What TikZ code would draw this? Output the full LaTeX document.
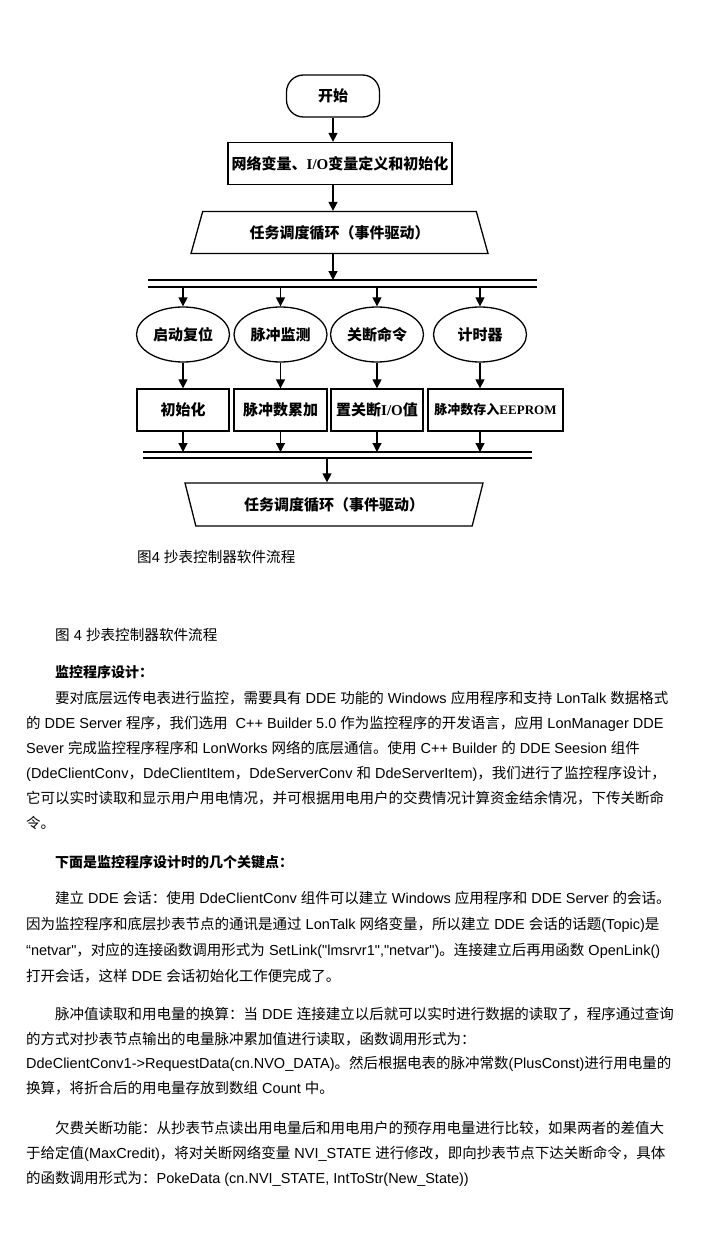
\documentclass[tikz,border=0pt]{standalone}
\usepackage{fontspec}
\setmainfont{Liberation Sans}
\newfontfamily\cjkfont{Noto Sans CJK SC}
\newfontfamily\latinsans{Liberation Sans}[Ligatures=TeXOff]
\newfontfamily\latinserif{Liberation Serif}[Ligatures=TeXOff]
\let\latinfont\latinsans
\usetikzlibrary{arrows.meta, positioning, shapes.geometric}

% Chinese characters are set in the CJK face, the rest in \latinfont
\XeTeXinterchartokenstate=1
\newXeTeXintercharclass\hanclass
\newcount\hancode
\newcommand\sethanrange[2]{%
  \hancode=#1\relax
  \loop
    \XeTeXcharclass\hancode=\hanclass
  \ifnum\hancode<#2\relax
    \advance\hancode by 1
  \repeat}
\sethanrange{"2E80}{"9FFF}
\sethanrange{"FF00}{"FFEF}
\XeTeXinterchartoks 0 \hanclass = {\cjkfont}
\XeTeXinterchartoks 4095 \hanclass = {\cjkfont}
\XeTeXinterchartoks \hanclass 0 = {\latinfont}
\XeTeXinterchartoks \hanclass 4095 = {\latinfont}
\XeTeXinterchartoks 4095 0 = {\latinfont}

\newcommand\chartfont{\let\latinfont\latinserif\latinserif\bfseries\fontsize{15}{18}\selectfont}
\newcommand\figcapfont{\latinsans\fontsize{14.6}{17}\selectfont}
\newcommand\bodyfont{\latinsans\fontsize{14.5}{17}\selectfont}
\newcommand\headfont{\latinsans\bfseries\fontsize{14}{17}\selectfont}

\begin{document}
\begin{tikzpicture}[x=1pt, y=-1pt,
    flowline/.style={line width=1.3pt, -{Triangle[length=9pt, width=9pt]}},
    busline/.style={line width=1.6pt},
    termbox/.style={draw, line width=1.3pt, rounded corners=17pt, minimum width=93pt, minimum height=42pt, font=\chartfont},
    procbox/.style={draw, line width=1.3pt, minimum height=42pt, inner sep=1pt, font=\chartfont},
    eventnode/.style={draw, ellipse, line width=1.3pt, minimum width=93pt, minimum height=55pt, inner sep=0pt, font=\chartfont},
    loopbox/.style={draw, trapezium, trapezium stretches body, line width=1.3pt, minimum height=42pt, inner sep=1pt, font=\chartfont},
    textline/.style={anchor=west, inner sep=0pt, text height=12.5pt, text depth=2pt, font=\bodyfont},
    headline/.style={textline, font=\headfont},
    ]
\path[use as bounding box, fill=white] (0,0) rectangle (724,1241);

% Flow chart -- start and set-up
\node[termbox] (start) at (333,96) {开始};
\node[procbox, minimum width=224pt] (init) at (340,163.5) {网络变量、I/O变量定义和初始化};
\node[loopbox, trapezium left angle=55, trapezium right angle=55, minimum width=297pt] (sched) at (339.5,232.5) {任务调度循环（事件驱动）};
\draw[flowline] (start.south) -- (start.south |- init.north);
\draw[flowline] (start.south |- init.south) -- (start.south |- sched.north);

% dispatch bus
\coordinate (busAw) at (148,280);
\coordinate (busAe) at (537,280);
\coordinate (busBw) at (148,287);
\coordinate (busBe) at (537,287);
\draw[busline] (busAw) -- (busAe);
\draw[busline] (busBw) -- (busBe);
\draw[flowline] (start.south |- sched.south) -- (start.south |- busAw);

% events
\node[eventnode] (reset) at (183,334.5) {启动复位};
\node[eventnode] (pulse) at (280.5,334.5) {脉冲监测};
\node[eventnode] (cutoff) at (377,334.5) {关断命令};
\node[eventnode] (timer) at (480,334.5) {计时器};
\draw[flowline] (reset |- busBw) -- (reset.north);
\draw[flowline] (pulse |- busBw) -- (pulse.north);
\draw[flowline] (cutoff |- busBw) -- (cutoff.north);
\draw[flowline] (timer |- busBw) -- (timer.north);

% actions
\node[procbox, minimum width=92pt] (doinit) at (183,410) {初始化};
\node[procbox, minimum width=93pt] (dosum) at (280.5,410) {脉冲数累加};
\node[procbox, minimum width=92pt] (doset) at (377,410) {置关断I/O值};
\node[procbox, minimum width=135pt, font={\chartfont\fontsize{13}{15}\selectfont}] (dostore) at (495.5,410) {脉冲数存入EEPROM};
\draw[flowline] (reset.south) -- (reset.south |- doinit.north);
\draw[flowline] (pulse.south) -- (pulse.south |- dosum.north);
\draw[flowline] (cutoff.south) -- (cutoff.south |- doset.north);
\draw[flowline] (timer.south) -- (timer.south |- dostore.north);

% collecting bus
\coordinate (busCw) at (143,452);
\coordinate (busCe) at (532,452);
\coordinate (busDw) at (143,458);
\coordinate (busDe) at (532,458);
\draw[busline] (busCw) -- (busCe);
\draw[busline] (busDw) -- (busDe);
\draw[flowline] (reset.south |- doinit.south) -- (reset.south |- busCw);
\draw[flowline] (pulse.south |- dosum.south) -- (pulse.south |- busCw);
\draw[flowline] (cutoff.south |- doset.south) -- (cutoff.south |- busCw);
\draw[flowline] (timer.south |- dostore.south) -- (timer.south |- busCw);

% back to the loop
\node[loopbox, trapezium left angle=123, trapezium right angle=123, minimum width=298pt, minimum height=43pt] (schedend) at (334,504.5) {任务调度循环（事件驱动）};
\coordinate (tap) at (327,458);
\draw[flowline] (tap) -- (tap |- schedend.north);
\node[anchor=west, inner sep=0pt, text height=12.5pt, text depth=2pt, font=\figcapfont] (figcap) at (137,557) {图4 抄表控制器软件流程};

% Article text
\node[textline, font=\figcapfont] (cap2) at (55,635) {图 4 抄表控制器软件流程};
\node[headline] (head1) at (55,672) {监控程序设计：};
\node[textline] (p1a) at (55,698) {要对底层远传电表进行监控，需要具有 DDE 功能的 Windows 应用程序和支持 LonTalk 数据格式};
\node[textline] (p1b) at (26,723) {的 DDE Server 程序，我们选用~~C++ Builder 5.0 作为监控程序的开发语言，应用 LonManager DDE};
\node[textline] (p1c) at (26,748) {Sever 完成监控程序程序和 LonWorks 网络的底层通信。使用 C++ Builder 的 DDE Seesion 组件};
\node[textline] (p1d) at (26,773) {(DdeClientConv，DdeClientItem，DdeServerConv 和 DdeServerItem)，我们进行了监控程序设计，};
\node[textline] (p1e) at (26,798) {它可以实时读取和显示用户用电情况，并可根据用电用户的交费情况计算资金结余情况，下传关断命};
\node[textline] (p1f) at (26,823) {令。};

\node[headline] (head2) at (55,862) {下面是监控程序设计时的几个关键点：};
\node[textline] (p2a) at (55,898) {建立 DDE 会话：使用 DdeClientConv 组件可以建立 Windows 应用程序和 DDE Server 的会话。};
\node[textline] (p2b) at (26,924) {因为监控程序和底层抄表节点的通讯是通过 LonTalk 网络变量，所以建立 DDE 会话的话题(Topic)是};
\node[textline] (p2c) at (26,950) {“netvar"，对应的连接函数调用形式为 SetLink("lmsrvr1","netvar")。连接建立后再用函数 OpenLink()};
\node[textline] (p2d) at (26,976) {打开会话，这样 DDE 会话初始化工作便完成了。};

\node[textline] (p3a) at (55,1014) {脉冲值读取和用电量的换算：当 DDE 连接建立以后就可以实时进行数据的读取了，程序通过查询};
\node[textline] (p3b) at (26,1039) {的方式对抄表节点输出的电量脉冲累加值进行读取，函数调用形式为：};
\node[textline] (p3c) at (26,1063) {DdeClientConv1->RequestData(cn.NVO\_DATA)。然后根据电表的脉冲常数(PlusConst)进行用电量的};
\node[textline] (p3d) at (26,1088) {换算，将折合后的用电量存放到数组 Count 中。};

\node[textline] (p4a) at (55,1128) {欠费关断功能：从抄表节点读出用电量后和用电用户的预存用电量进行比较，如果两者的差值大};
\node[textline] (p4b) at (26,1153) {于给定值(MaxCredit)，将对关断网络变量 NVI\_STATE 进行修改，即向抄表节点下达关断命令，具体};
\node[textline] (p4c) at (26,1178) {的函数调用形式为：PokeData (cn.NVI\_STATE, IntToStr(New\_State))};
\end{tikzpicture}
\end{document}
